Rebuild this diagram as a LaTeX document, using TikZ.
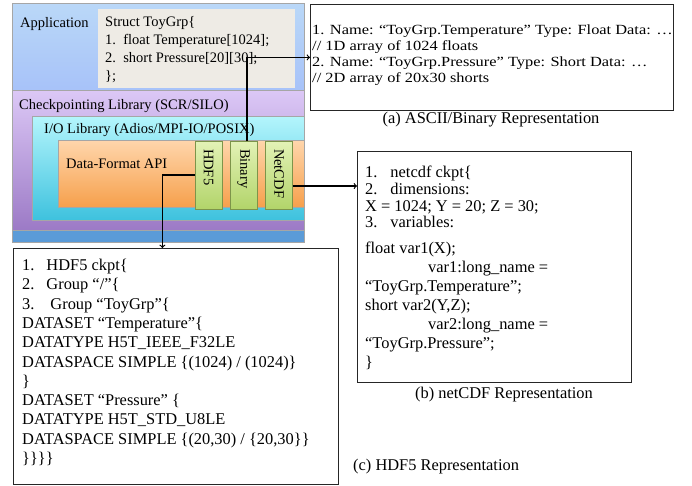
\documentclass[tikz,border=0pt]{standalone}
\usepackage{fontspec}
\setmainfont{Liberation Serif}
\newfontfamily\widefont[FakeStretch=1.17]{Liberation Serif}
\usetikzlibrary{calc}

\definecolor{appblue}{HTML}{BAD8F8}
\definecolor{baseblue}{HTML}{5B9BD8}
\definecolor{ckpttop}{HTML}{DCC8F6}
\definecolor{ckptbot}{HTML}{9C7AC6}
\definecolor{iotop}{HTML}{B4F5FC}
\definecolor{iobot}{HTML}{3EC2DE}
\definecolor{apitop}{HTML}{FFD6AC}
\definecolor{apibot}{HTML}{F6A04C}
\definecolor{fmttop}{HTML}{E3F2B6}
\definecolor{fmtbot}{HTML}{B2D46A}
\definecolor{structgray}{HTML}{EEEBE5}

\tikzset{
  layer/.style={draw=black!35, line width=0.4pt},
  fmtbox/.style={draw=fmtbot!70!black, line width=0.4pt, top color=fmttop, bottom color=fmtbot,
    minimum width=27pt, minimum height=68pt, inner sep=0pt},
  repbox/.style={draw=black!85, line width=0.8pt, anchor=north west, inner sep=0pt},
  code/.style={anchor=north west, inner sep=0pt, align=left, font=\fontsize{16.4}{19.3}\selectfont},
  layertext/.style={anchor=west, inner sep=0pt, font=\fontsize{14.5}{18}\selectfont},
  caption/.style={inner sep=0pt, font=\fontsize{16.4}{18}\selectfont},
  conn/.style={->, line width=1.2pt},
}

\begin{document}
\begin{tikzpicture}[x=1pt, y=-1pt]
    \useasboundingbox (0,0) rectangle (692,485);
    % Software stack
    \draw[layer, fill=baseblue] (12,3) rectangle (304,242);
    \draw[layer, top color=appblue, bottom color=appblue!90!blue] (12,3) rectangle (304,90);
    \fill[structgray] (98,9) rectangle (295,88);
    \draw[layer, top color=ckpttop, bottom color=ckptbot] (12,90) rectangle (304,230);
    \draw[layer, top color=iotop, bottom color=iobot] (32,116) rectangle (304,220);
    \draw[layer, top color=apitop, bottom color=apibot] (58,140) rectangle (304,207);
    \node (app) at (20,24) [layertext] {Application};
    \node (toygrp) at (105,16) [anchor=north west, inner sep=0pt, align=left,
        font=\fontsize{14.5}{18}\selectfont]
        {Struct ToyGrp\{\\ 1.\ \ float Temperature[1024];\\ 2.\ \ short Pressure[20][30];\\ \};};
    \node (ckpt) at (19,106) [layertext] {Checkpointing Library (SCR/SILO)};
    \node (iolib) at (44,130) [layertext] {I/O Library (Adios/MPI-IO/POSIX)};
    \node (dfapi) at (66,164) [layertext] {Data-Format API};
    % Formats
    \node (hdf5) at (208.5,175) [fmtbox] {\rotatebox{-90}{\makebox[52pt][l]{\fontsize{14.5}{18}\selectfont HDF5}}};
    \node (binary) at (243.5,175) [fmtbox] {\rotatebox{-90}{\makebox[52pt][l]{\fontsize{14.5}{18}\selectfont Binary}}};
    \node (netcdf) at (279,175) [fmtbox] {\rotatebox{-90}{\makebox[52pt][l]{\fontsize{14.5}{18}\selectfont NetCDF}}};
    % (a) ASCII/Binary
    \node (repa) at (310,4) [repbox, minimum width=363pt, minimum height=106pt] {};
    \node (repatext) at (312,25) [code, font=\widefont\fontsize{14}{15.7}\selectfont]
        {1. Name: “ToyGrp.Temperature” Type: Float Data: …\\
         // 1D array of 1024 floats\\
         2. Name: “ToyGrp.Pressure” Type: Short Data: …\\
         // 2D array of 20x30 shorts};
    \node (capa) at (491,120) [caption] {(a) ASCII/Binary Representation};
    % (b) netCDF
    \node (repb) at (357,151) [repbox, minimum width=274pt, minimum height=231pt] {};
    \node (repbtext) at (365,166) [code, font=\fontsize{16.4}{19}\selectfont]
        {1.\hspace*{13pt}netcdf ckpt\{\\[-2.3pt]
         2.\hspace*{13pt}dimensions:\\[-2.3pt]
         X = 1024; Y = 20; Z = 30;\\[-2.3pt]
         3.\hspace*{13pt}variables:\\[7pt]
         float var1(X);\\
         \hspace*{63pt}var1:long\_name =\\
         “ToyGrp.Temperature”;\\
         short var2(Y,Z);\\
         \hspace*{63pt}var2:long\_name =\\
         “ToyGrp.Pressure”;\\
         \}};
    \node (capb) at (504,395) [caption] {(b) netCDF Representation};
    % (c) HDF5
    \node (repc) at (13,248) [repbox, minimum width=325pt, minimum height=236pt] {};
    \node (repctext) at (22,259) [code]
        {1.\hspace*{12pt}HDF5 ckpt\{\\
         2.\hspace*{12pt}Group “/”\{\\
         3.\hspace*{16pt}Group “ToyGrp”\{\\
         DATASET “Temperature”\{\\
         DATATYPE H5T\_IEEE\_F32LE\\
         DATASPACE SIMPLE \{(1024) / (1024)\}\\
         \}\\
         DATASET “Pressure” \{\\
         DATATYPE H5T\_STD\_U8LE\\
         DATASPACE SIMPLE \{(20,30) / \{20,30\}\}\\
         \}\}\}\}};
    \node (capc) at (353,467) [caption, anchor=west] {(c) HDF5 Representation};
    % Connectors
    \draw[conn] ([xshift=3.5pt]binary.north) |- (repa.west);
    \draw[conn] ([yshift=-11pt]netcdf.east) -- ([yshift=-11pt]netcdf.east -| repb.west);
    \draw[conn] (hdf5.west) -| ([xshift=-13.5pt]repc.north);
\end{tikzpicture}
\end{document}
